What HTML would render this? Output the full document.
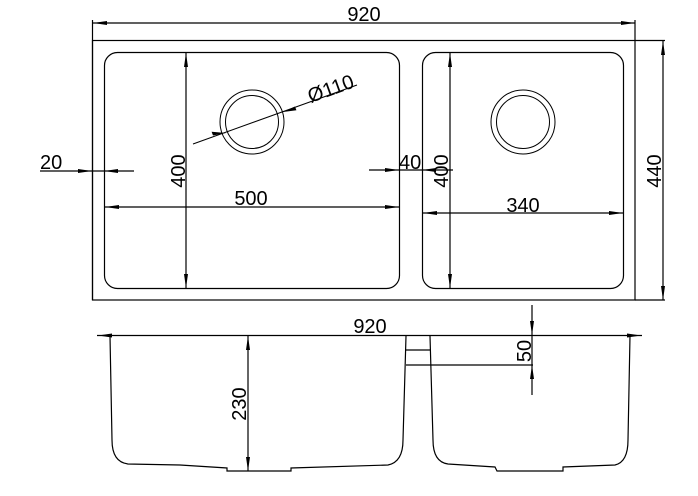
<!DOCTYPE html>
<html><head><meta charset="utf-8"><style>
html,body{margin:0;padding:0;background:#fff;}
svg{display:block}
text{font-family:"Liberation Sans",sans-serif;font-size:20px;fill:#000}
</style></head><body>
<svg width="698" height="496" viewBox="0 0 698 496" xmlns="http://www.w3.org/2000/svg">
<g fill="none" stroke="#000" stroke-width="1.2">
<line x1="93" y1="23" x2="635" y2="23"/>
<line x1="92.5" y1="20" x2="92.5" y2="300"/>
<line x1="635" y1="20" x2="635" y2="40"/>
<rect x="92.5" y="40.5" width="542.5" height="259.5"/>
<line x1="635" y1="300" x2="665" y2="300"/>
<line x1="635" y1="40.5" x2="665" y2="40.5"/>
<line x1="663" y1="40" x2="663" y2="300"/>
<rect x="104.5" y="52.5" width="295" height="236" rx="13"/>
<rect x="422.5" y="52.5" width="201" height="236" rx="13"/>
<circle cx="252" cy="122" r="32" stroke-width="1"/>
<circle cx="252" cy="122" r="26.5" stroke-width="1"/>
<circle cx="523" cy="122" r="32" stroke-width="1"/>
<circle cx="523" cy="122" r="26.5" stroke-width="1"/>
<line x1="193" y1="144" x2="357" y2="85" stroke-width="1"/>
<line x1="186" y1="52" x2="186" y2="288"/>
<line x1="450" y1="52" x2="450" y2="288"/>
<line x1="40" y1="171" x2="134" y2="171"/>
<line x1="369" y1="170" x2="453" y2="170"/>
<line x1="104" y1="207" x2="399" y2="207"/>
<line x1="422" y1="213" x2="623" y2="213"/>
<line x1="97" y1="335.5" x2="642" y2="335.5"/>
<path d="M110 336 L112 440 Q112 462 128 464 L180 465 L227 468 L227 471 L291 471 L291 468 L388 465 Q403 462 403 440 L406 336"/>
<path d="M430 336 L433 440 Q433 462 448 464 L495 467 L497 471 L563 471 L563 467 L615 465 Q628 462 628 440 L630 336"/>
<line x1="406" y1="350" x2="430" y2="350"/>
<line x1="406" y1="365" x2="533" y2="365"/>
<line x1="248" y1="336" x2="248" y2="471"/>
<line x1="532" y1="305" x2="532" y2="395"/>
</g>
<g fill="#000">
<polygon points="93,23 107,21 107,25"/>
<polygon points="635,23 621,21 621,25"/>
<polygon points="663,41 661,55 665,55"/>
<polygon points="663,300 661,286 665,286"/>
<polygon points="186,53 184,67 188,67"/>
<polygon points="186,288 184,274 188,274"/>
<polygon points="450,53 448,67 452,67"/>
<polygon points="450,288 448,274 452,274"/>
<polygon points="92,171 78,169 78,173"/>
<polygon points="104,171 118,169 118,173"/>
<polygon points="399,170 385,168 385,172"/>
<polygon points="422,170 436,168 436,172"/>
<polygon points="105,207 119,205 119,209"/>
<polygon points="399,207 385,205 385,209"/>
<polygon points="423,213 437,211 437,215"/>
<polygon points="623,213 609,211 609,215"/>
<polygon points="226,133 213,135.5 211.6,131.8"/>
<polygon points="283,112 295,106.5 296.4,110.3"/>
<polygon points="98,335.5 112,333.5 112,337.5"/>
<polygon points="641,335.5 627,333.5 627,337.5"/>
<polygon points="248,336 246,350 250,350"/>
<polygon points="248,471 246,457 250,457"/>
<polygon points="532,335 530,321 534,321"/>
<polygon points="532,365 530,379 534,379"/>
</g>
<text x="364" y="21" text-anchor="middle">920</text>
<text x="40" y="169">20</text>
<text x="399" y="169">40</text>
<text x="251" y="205" text-anchor="middle">500</text>
<text x="523" y="212" text-anchor="middle">340</text>
<text transform="translate(185,171) rotate(-90)" text-anchor="middle">400</text>
<text transform="translate(448,171) rotate(-90)" text-anchor="middle">400</text>
<text transform="translate(661,171) rotate(-90)" text-anchor="middle">440</text>
<text transform="translate(333,95) rotate(-19.8)" text-anchor="middle">Ø110</text>
<text x="370" y="333" text-anchor="middle">920</text>
<text transform="translate(246,404) rotate(-90)" text-anchor="middle">230</text>
<text transform="translate(531,351) rotate(-90)" text-anchor="middle">50</text>
</svg>
</body></html>
